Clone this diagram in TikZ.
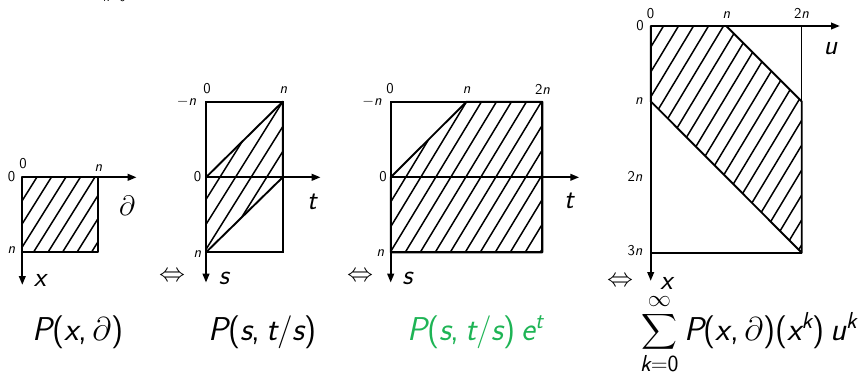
\RequirePackage{fix-cm}
\documentclass[tikz,border=0pt]{standalone}
\usepackage{amsmath}
\usepackage{fontspec}
\usetikzlibrary{arrows.meta}
\definecolor{fgreen}{RGB}{30,180,85}
\newcommand\vi[1]{{\itshape #1}}
\newcommand\hatchfill[5]{%
  \begin{scope}
    \clip #1;
    \foreach \k in {-20,...,20}{
      \draw[hatchline] ({#2+\k*#4-170},{#3+170*#5}) -- ({#2+\k*#4+170},{#3-170*#5});
    }
  \end{scope}}
\tikzset{
  axis/.style={line width=2.2pt,-{Triangle[length=9pt,width=6.5pt]}},
  framebox/.style={line width=1.7pt},
  thinframe/.style={line width=1pt},
  region/.style={line width=1.9pt,line join=round},
  hatchline/.style={line width=1.5pt},
  small/.style={font=\sffamily\fontsize{15}{15}\selectfont,inner sep=0pt},
  axlabel/.style={font=\sffamily\fontsize{28}{28}\selectfont,inner sep=0pt},
  formula/.style={font=\sffamily\fontsize{33}{33}\selectfont,inner sep=0pt,anchor=base west},
  equiv/.style={font=\fontsize{26}{26}\selectfont,inner sep=0pt},
}
\begin{document}
\begin{tikzpicture}[x=1pt,y=-1pt]
\useasboundingbox (0,0) rectangle (864,381);

% fragment at top edge
\node[font=\sffamily\fontsize{13}{13}\selectfont,inner sep=0pt,anchor=base west] (frag) at (103,1.8) {\vi{k}=0};

% ---------------- panel 1 ----------------
\coordinate (o1) at (22.3,177.3);
\coordinate (o1r) at (136.7,177.3);
\coordinate (o1d) at (22.3,285);
\hatchfill{(22.3,177.3) rectangle (98.3,251.7)}{22.3}{177.3}{14.5}{1.6}
\draw[region] (22.3,177.3) rectangle (98.3,251.7);
\draw[axis] (o1) -- (o1r);
\draw[axis] (o1) -- (o1d);
\node[small] (p1zl) at (11.5,177) {0};
\node[small] (p1zt) at (23,164) {0};
\node[small] (p1nt) at (98.5,168) {\vi{n}};
\node[small] (p1nl) at (11.5,250.5) {\vi{n}};
\node[axlabel] (p1d) at (127,206) {$\partial$};
\node[axlabel] (p1x) at (40,280.5) {\vi{x}};

% ---------------- panel 2 ----------------
\coordinate (o2) at (206,177.3);
\coordinate (o2r) at (320.7,177.3);
\coordinate (o2d) at (206,282.7);
\hatchfill{(206,177.3) -- (282.7,101.7) -- (282.7,177.3) -- (206,252.3) -- cycle}{282.7}{101.7}{15.6}{1.6}
\draw[framebox] (206,101.7) rectangle (282.7,252.3);
\draw[region] (206,177.3) -- (282.7,101.7) -- (282.7,177.3) -- (206,252.3) -- cycle;
\draw[axis] (o2) -- (o2r);
\draw[axis] (o2) -- (o2d);
\node[small] (p2zt) at (207,89) {0};
\node[small] (p2nt) at (283.5,90) {\vi{n}};
\node[small] (p2mn) at (186.5,102) {$-$\vi{n}};
\node[small] (p2zl) at (197.5,177) {0};
\node[small] (p2nl) at (197.5,254) {\vi{n}};
\node[axlabel] (p2t) at (312,202) {\vi{t}};
\node[axlabel] (p2s) at (224,278) {\vi{s}};
\node[equiv] (eq1) at (172,277) {$\Leftrightarrow$};

% ---------------- panel 3 ----------------
\coordinate (o3) at (390.7,177.3);
\coordinate (o3r) at (579.3,177.3);
\coordinate (o3d) at (390.7,282.7);
\hatchfill{(390.7,177.3) -- (466.5,101.7) -- (542.3,101.7) -- (542.3,252.3) -- (390.7,252.3) -- cycle}{466.5}{101.7}{15}{1.65}
\draw[framebox] (390.7,101.7) rectangle (542.3,252.3);
\draw[region] (390.7,177.3) -- (466.5,101.7) -- (542.3,101.7) -- (542.3,252.3) -- (390.7,252.3) -- cycle;
\draw[axis] (o3) -- (o3r);
\draw[axis] (o3) -- (o3d);
\node[small] (p3zt) at (390,89) {0};
\node[small] (p3nt) at (466.7,90) {\vi{n}};
\node[small] (p3tn) at (542.5,89) {2\vi{n}};
\node[small] (p3mn) at (372,102) {$-$\vi{n}};
\node[small] (p3zl) at (383,177) {0};
\node[small] (p3nl) at (380.5,253.5) {\vi{n}};
\node[axlabel] (p3t) at (569,201) {\vi{t}};
\node[axlabel] (p3s) at (407.5,278) {\vi{s}};
\node[equiv] (eq2) at (360,277) {$\Leftrightarrow$};

% ---------------- panel 4 ----------------
\coordinate (o4) at (650.7,26);
\coordinate (o4r) at (840,26);
\coordinate (o4d) at (650.7,281);
\hatchfill{(650.7,26) -- (726.2,26) -- (801.7,101.5) -- (801.7,252.7) -- (650.7,101.3) -- cycle}{663.5}{26}{15}{1.66}
\draw[thinframe] (801.7,26) -- (801.7,101.5);
\draw[framebox] (650.7,252.7) -- (801.7,252.7);
\draw[region] (650.7,26) -- (726.2,26) -- (801.7,101.5) -- (801.7,252.7) -- (650.7,101.3) -- cycle;
\draw[axis] (o4) -- (o4r);
\draw[axis] (o4) -- (o4d);
\node[small] (p4zt) at (650.5,13.5) {0};
\node[small] (p4nt) at (726.5,15) {\vi{n}};
\node[small] (p4tn) at (801.5,13.5) {2\vi{n}};
\node[small] (p4zl) at (640,26) {0};
\node[small] (p4nl) at (639,101) {\vi{n}};
\node[small] (p4tl) at (635,176) {2\vi{n}};
\node[small] (p4hl) at (635,251) {3\vi{n}};
\node[axlabel] (p4u) at (830.5,49) {\vi{u}};
\node[axlabel] (p4x) at (666.5,283) {\vi{x}};
\node[equiv] (eq3) at (620,282) {$\Leftrightarrow$};

% ---------------- formulas ----------------
\node[formula] (f1) at (32,340) {\vi{P}(\vi{x},\,$\partial$)};
\node[formula] (f2) at (208,340) {\vi{P}(\vi{s},\,\vi{t}/\vi{s})};
\node[formula,text=fgreen] (f3) at (407,340) {\vi{P}(\vi{s},\,\vi{t}/\vi{s})\,\vi{e}$^{\text{\itshape t}}$};
\node[formula] (f4) at (640,340) {$\displaystyle\sum_{\text{\itshape k\upshape =0}}^{\infty}$\,\vi{P}(\vi{x},\,$\partial$)(\vi{x}$^{\text{\itshape k}}$)\,\vi{u}$^{\text{\itshape k}}$};
\end{tikzpicture}
\end{document}
